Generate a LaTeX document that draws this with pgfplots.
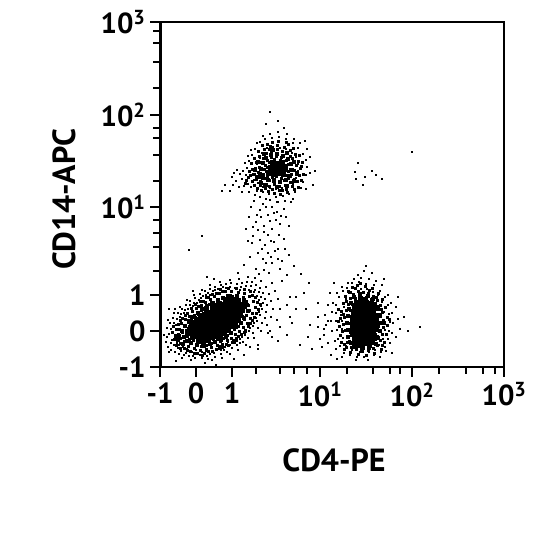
\documentclass[border=0pt]{standalone}
\usepackage{pgfplots}
\pgfplotsset{compat=1.18}
\usepackage{fontspec}
\setmainfont{PT Sans}
\begin{document}
\begin{tikzpicture}[x=1pt,y=1pt]
\path[use as bounding box] (0,0) rectangle (540,540);
\begin{axis}[at={(160pt,173pt)},anchor=south west,width=344pt,height=345pt,scale only axis,
 xmin=0,xmax=344,ymin=0,ymax=345,
 axis line style={line width=1.9pt},
 tick align=outside,tick pos=left,clip=true,
 xtick={0,36,72,160,252,344},xticklabels={-1,0,1,10\textsuperscript{1},10\textsuperscript{2},10\textsuperscript{3}},
 ytick={0,36,72,160,252,345},yticklabels={-1,0,1,10\textsuperscript{1},10\textsuperscript{2},10\textsuperscript{3}},
 minor xtick={96,120,134,147,187,213,230,240,279,306,323,335},
 minor ytick={96,120,134,147,186,212,229,239,279,305,324,336},
 major tick length=10pt,minor tick length=7pt,
 tick style={line width=1.9pt,black},
 tick label style={font=\fontsize{29}{30}\selectfont\bfseries},
 xticklabel style={yshift=-2pt},yticklabel style={xshift=-1pt},
 xlabel={\fontsize{32}{33}\selectfont\bfseries CD4-PE},
 ylabel={\fontsize{32}{33}\selectfont\bfseries CD14-APC},
 xlabel style={at={(axis description cs:0.5,0)},anchor=north,yshift=-78pt,xshift=2pt},
 ylabel style={at={(axis description cs:0,0.5)},anchor=south,rotate=0,yshift=81pt,xshift=-5pt},
]
% dense cores
\addplot[only marks,mark=square*,mark size=2.3pt,mark options={draw=none,fill=black}] coordinates {
(38,26)(43,25)(48,27)
(32,30)(37,31)(42,30)(47,31)(52,30)(57,31)
(30,35)(35,34)(40,35)(45,34)(50,35)(55,34)(60,35)(64,34)
(30,39)(35,38)(40,39)(45,38)(50,39)(55,38)(60,39)(65,38)(68,39)
(32,43)(37,42)(42,43)(47,42)(52,43)(57,42)(62,43)(67,42)(72,43)
(36,47)(41,46)(46,47)(51,46)(56,47)(61,46)(66,47)(71,46)(76,47)
(40,51)(45,50)(50,51)(55,50)(60,51)(65,50)(70,51)(75,50)(78,51)
(46,55)(51,54)(56,55)(61,54)(66,55)(71,54)(76,55)(80,54)
(52,59)(57,58)(62,59)(67,58)(72,59)(77,58)(82,59)
(58,63)(63,62)(68,63)(73,62)(78,63)(82,62)
(66,67)(71,66)(76,67)
(108,194)(113,193)(118,194)(123,193)(110,199)(115,198)(120,199)(125,198)(112,204)(117,203)(122,204)
(197,24)(202,23)(207,24)(212,25)
(194,29)(199,28)(204,29)(209,28)(214,29)
(193,34)(198,33)(203,34)(208,33)(213,34)
(192,39)(197,38)(202,39)(207,38)(212,39)(216,38)
(192,44)(197,43)(202,44)(207,43)(212,44)(216,43)
(192,49)(197,48)(202,49)(207,48)(212,49)(216,48)
(193,54)(198,53)(203,54)(208,53)(213,54)
(194,59)(199,58)(204,59)(209,58)(214,59)
(196,64)(201,63)(206,64)(211,63)
(200,68)(205,67)
};
% heavy speckle at the edge of the cores
\addplot[only marks,mark=square*,mark size=1.5pt,mark options={draw=none,fill=black}] coordinates {
(24,30)(22,36)(27,26)(25,41)(29,46)(33,50)(38,54)(42,58)(47,61)(52,64)(58,67)(63,69)(70,71)(77,71)(84,67)(87,62)(88,56)(84,49)(81,44)(76,40)(71,34)(66,30)(61,27)(55,25)(50,23)(44,21)(37,22)(31,24)(19,31)(18,27)(23,23)
(103,189)(108,187)(114,186)(120,185)(126,187)(130,191)(132,197)(131,203)(128,208)(123,211)(117,213)(111,212)(106,209)(103,204)(101,198)(100,193)
(97,190)(101,184)(106,182)(117,180)(127,181)(134,186)(137,194)(134,205)(127,214)(113,217)(104,213)(98,205)(95,197)
(188,30)(188,37)(187,44)(188,51)(189,58)(191,64)(194,70)(200,73)(208,71)(213,68)(218,60)(220,52)(221,44)(220,36)(218,29)(216,23)(209,19)(202,18)(195,20)(191,24)
};
% dense speckle
\addplot[only marks,mark=square*,mark size=1pt,mark options={draw=none,fill=black}] coordinates {
(24,26)(27,31)(22,35)(26,37)(24,42)(28,45)(31,48)(34,52)(37,55)(41,57)(45,60)(49,63)(53,65)(57,68)(62,70)(67,72)(72,71)(77,71)(83,70)(86,66)(88,62)(89,57)(86,52)(84,48)(81,45)(78,41)(74,38)(70,35)(67,32)(63,29)(60,26)(55,26)(51,24)(46,22)(41,21)(36,23)(31,25)
(20,29)(18,33)(19,38)(21,44)(25,48)(29,51)(32,56)(36,59)(41,62)(45,65)(50,68)(54,71)(59,74)(65,76)(71,76)(78,75)(84,74)(89,71)(93,66)(95,60)(92,54)(90,49)(87,44)(83,40)(79,36)(75,33)(71,29)(67,27)(62,23)(57,22)(51,20)(46,18)(40,17)(34,19)(28,21)(23,23)
(33,27)(29,28)(28,33)(26,34)(28,39)(30,44)(33,46)(35,50)(38,53)(43,54)(47,58)(51,61)(55,63)(60,65)(64,66)(69,69)(74,69)(79,68)(84,66)(85,60)(83,56)(82,51)(79,47)(76,43)(72,40)(68,36)(65,31)(61,31)(57,28)(53,28)(48,28)(42,27)
(15,32)(17,27)(20,24)(16,38)(18,43)(22,49)(27,54)(31,59)(38,61)(43,66)(48,70)(56,74)(62,76)(92,72)(97,65)(98,58)(94,50)(90,44)(85,37)(81,33)(76,29)(72,25)(66,23)(59,19)(52,16)(44,14)(37,14)(30,16)(24,19)
(14,28)(12,35)(16,22)(20,19)(13,41)(20,47)(25,52)(35,63)(40,66)(46,70)(52,73)(60,78)(68,79)(76,79)(84,78)(90,76)(95,70)(100,63)(96,54)(92,47)(88,41)(84,35)(78,31)(74,27)(68,22)(62,20)(56,18)(48,16)(42,12)(34,14)(27,17)
(100,186)(104,183)(109,181)(114,183)(119,181)(125,182)(130,185)(134,188)(136,193)(134,197)(136,202)(133,206)(130,211)(127,214)(122,216)(117,218)(111,216)(106,214)(103,209)(101,205)(99,200)(98,195)(100,190)
(104,189)(109,187)(114,188)(119,186)(124,187)(128,189)(131,193)(130,198)(128,203)(126,207)(121,210)(116,211)(111,210)(107,207)(105,202)(104,198)(103,193)
(107,191)(112,190)(116,191)(121,189)(126,192)(128,196)(125,202)(120,207)(114,208)(109,205)(107,200)(106,196)
(96,188)(93,193)(95,199)(96,205)(99,211)(104,218)(110,221)(117,222)(124,220)(130,217)(135,213)(138,206)(140,199)(139,192)(137,186)(132,181)(126,178)(119,177)(112,178)(105,179)(100,182)
(92,186)(90,192)(91,204)(102,222)(112,225)(128,223)(142,205)(143,193)(138,180)(114,174)(120,173)(97,179)(86,187)
(94,182)(88,190)(92,198)(94,209)(98,216)(107,223)(118,226)(126,225)(133,219)(139,212)(141,201)(141,187)(134,178)(127,175)(108,176)(101,177)(89,196)(85,184)(109,218)(132,209)(122,177)
(184,23)(187,30)(185,37)(183,43)(184,50)(186,57)(188,63)(190,69)(193,73)(198,76)(203,75)(208,74)(213,71)(217,67)(220,62)(222,55)(223,47)(223,40)(222,33)(220,27)(217,22)(213,19)(208,17)(202,16)(196,18)(191,20)(187,25)
(189,26)(191,32)(189,38)(188,44)(188,51)(190,57)(192,63)(195,69)(200,71)(206,70)(211,68)(215,64)(218,58)(220,51)(220,44)(219,36)(217,31)(214,24)(208,21)(203,19)(198,21)(193,23)
(180,32)(179,41)(180,49)(181,56)(183,64)(185,71)(188,76)(192,80)(197,82)(205,81)(212,79)(218,74)(222,68)(225,60)(227,50)(227,42)(226,33)(224,25)(221,18)(214,14)(206,12)(198,13)(190,15)(184,18)(181,25)
(194,26)(190,35)(191,47)(193,57)(197,66)(204,68)(211,61)(217,53)(218,41)(215,33)(210,21)(201,21)
(182,36)(183,53)(186,66)(190,75)(195,79)(209,77)(216,70)(221,58)(224,44)(222,22)(186,20)(178,46)(178,58)(229,48)(200,84)
};
% individual events
\addplot[only marks,mark=square*,mark size=0.55pt,mark options={draw=none,fill=black}] coordinates {
(12,27)(9,33)(14,22)(18,19)(21,16)(26,14)(33,11)(40,12)(47,11)(54,14)(61,17)(65,20)(70,22)(75,24)(80,28)(85,32)(89,36)(93,41)(97,46)(100,52)(102,58)(103,64)(101,70)(99,75)(95,77)(91,81)(86,81)(81,80)(75,79)(69,79)(63,80)(58,78)(53,76)(48,74)(43,71)(39,67)(34,64)(30,62)(25,57)(21,53)(17,48)(14,44)(11,38)
(16,30)(13,35)(11,24)(17,24)(15,29)(19,22)(23,20)(27,18)(32,15)(36,17)(42,15)(46,16)(50,13)(56,18)(60,21)(64,17)(68,25)(73,27)(77,26)(82,30)(86,35)(90,39)(94,44)(96,49)(99,55)(101,61)(99,67)(97,71)(94,75)(89,77)(85,78)(80,77)(76,78)(70,80)(66,79)(60,77)(55,77)(50,72)(46,72)(41,69)(37,64)(33,61)(28,58)(24,54)(20,50)(16,42)(14,40)
(7,30)(6,25)(8,20)(11,17)(15,15)(19,13)(24,12)(29,11)(35,9)(42,9)(48,8)(55,10)(61,13)(67,15)(72,19)(77,22)(83,25)(88,29)(93,34)(98,39)(102,44)(105,49)(106,55)(107,62)(105,68)(103,74)(100,79)(96,82)(92,85)(87,85)(82,84)(77,83)(71,84)(66,83)(61,82)(55,80)(50,78)(45,76)(40,73)(35,69)(30,66)(26,62)(22,58)(18,54)(13,49)(10,44)(7,39)
(4,32)(9,15)(22,9)(31,7)(52,7)(62,9)(70,13)(78,17)(86,22)(94,29)(101,36)(107,42)(111,50)(113,58)(111,66)(109,73)(106,80)(101,86)(95,89)(88,90)(79,88)(70,87)(60,85)(50,82)(42,77)(34,72)(27,67)(20,60)(14,54)(8,47)
(16,6)(45,4)(74,8)(90,20)(108,34)(117,47)(120,58)(118,68)(115,76)(112,84)(99,93)(78,94)(54,88)(33,76)(15,58)
(84,102)(104,97)(122,86)(127,62)(103,108)(47,90)(9,58)(29,117)(42,131)(130,70)(136,58)(132,44)(112,30)(98,22)(84,12)(56,2)
(109,94)(106,104)(98,114)(90,110)(111,110)(118,108)(105,122)(114,125)(100,127)(93,131)(119,132)(112,138)(104,141)(96,145)(116,147)(108,152)(121,151)(100,157)(112,160)(124,158)(118,165)(106,168)(94,166)(89,150)(129,141)(125,118)(134,101)(141,93)(149,84)(120,98)(108,132)(115,116)(102,118)(98,137)(110,146)(124,128)(117,155)(106,160)(92,124)(88,126)(86,138)(101,150)(129,112)(96,98)(112,104)(122,106)(127,92)(118,118)(108,114)(104,135)(111,126)(120,143)(126,150)(114,154)(103,163)(97,152)(93,140)(110,167)(116,170)(100,170)(125,166)(131,165)(91,160)(95,172)
(80,24)(98,18)(110,36)(120,40)(127,32)(140,22)(148,30)(150,42)(158,50)(164,38)(146,58)(136,70)(152,18)(160,28)(118,26)(130,50)(158,64)(144,74)(162,20)(168,46)
(88,183)(86,192)(87,199)(89,206)(92,212)(95,218)(100,225)(105,228)(112,229)(119,230)(126,228)(133,224)(138,219)(143,213)(146,207)(147,200)(146,192)(143,185)(141,179)(135,175)(129,173)(123,171)(116,170)(109,173)(103,175)(97,176)(91,180)
(98,184)(94,187)(95,193)(97,203)(100,209)(102,214)(107,219)(113,220)(120,219)(126,218)(132,214)(136,210)(138,203)(138,196)(136,189)(133,183)(128,180)(122,179)(116,178)(110,179)(103,180)(101,185)
(84,181)(82,188)(83,196)(85,204)(88,211)(91,217)(97,224)(103,231)(110,233)(118,235)(127,233)(134,228)(140,224)(147,218)(150,210)(150,194)(146,178)(133,168)(117,165)(89,175)
(79,180)(76,186)(80,193)(77,197)(82,175)(153,182)(155,196)(145,226)(124,239)(106,243)(118,246)(72,190)(65,182)(73,182)(62,176)(70,176)(74,194)(110,255)
(201,78)(195,78)(207,78)(213,75)(218,72)(189,74)(186,68)(222,65)(184,60)(224,55)(181,52)(225,45)(182,46)(225,37)(182,38)(223,28)(183,29)(219,22)(186,21)(215,17)(192,17)(209,15)(200,15)
(199,85)(192,84)(206,83)(214,82)(187,79)(220,76)(183,76)(225,70)(179,70)(228,62)(176,62)(229,53)(176,54)(230,45)(176,46)(229,36)(177,37)(228,28)(178,28)(225,20)(180,21)(221,15)(184,14)(214,12)(190,12)(204,10)(197,10)
(201,89)(194,88)(209,88)(216,86)(188,84)(222,82)(182,80)(228,72)(177,74)(231,64)(173,64)(232,54)(172,55)(233,44)(171,46)(232,34)(172,36)(230,24)(175,26)(226,16)(176,18)(220,10)(182,10)(208,7)(196,7)
(204,96)(198,92)(212,94)(236,60)(238,48)(240,38)(236,30)(168,62)(165,52)(166,42)(164,32)(168,24)(171,12)(177,8)(232,14)(238,70)(244,50)(170,74)(174,84)(224,88)(248,36)(260,40)(206,101)(158,40)
(195,195)(205,190)(216,192)(222,188)(198,204)(196,188)(252,215)(212,196)(203,182)
};
\draw[line width=3pt] (axis cs:0,0) -- (axis cs:0,345);
\end{axis}
\end{tikzpicture}
\end{document}
